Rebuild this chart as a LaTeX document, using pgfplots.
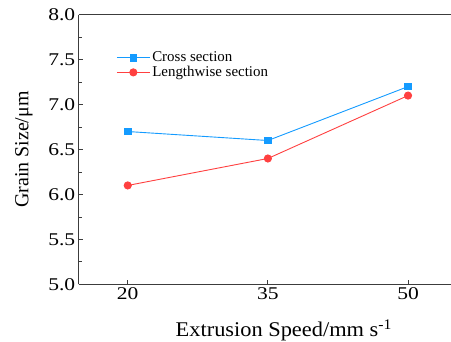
\documentclass[border=0pt]{standalone}
\usepackage{fontspec}
\setmainfont{Liberation Serif}
\newfontfamily\tickfont[FakeStretch=1.2]{Liberation Serif}
\newfontfamily\xlabfont[FakeStretch=1.07]{Liberation Serif}
\usepackage{pgfplots}
\pgfplotsset{compat=1.18}
\definecolor{cblue}{RGB}{20,155,255}
\definecolor{cred}{RGB}{255,64,64}
\definecolor{axgray}{RGB}{60,60,60}
\begin{document}
\begin{tikzpicture}
\begin{axis}[
  at={(0,0)}, anchor=south west,
  scale only axis, width=372.3bp, height=269.6bp,
  xmin=14.75, xmax=54.6, ymin=5, ymax=8,
  axis lines*=left,
  axis line style={axgray, line width=1bp},
  xtick={20,35,50}, ytick={5,5.5,6,6.5,7,7.5,8},
  minor y tick num=1,
  tick align=inside,
  tick style={axgray, line width=0.8bp},
  major tick length=4.5bp, minor tick length=3bp,
  /pgf/number format/assume math mode=true,
  yticklabel style={/pgf/number format/fixed, /pgf/number format/fixed zerofill, /pgf/number format/precision=1},
  tick label style={font=\tickfont\fontsize{18}{20}\selectfont},
  xlabel={Extrusion Speed/mm s\textsuperscript{-1}},
  ylabel={Grain Size/μm},
  xlabel style={at={(rel axis cs:0.551,0)}, anchor=base, yshift=-52.4bp, font=\xlabfont\fontsize{21}{24}\selectfont},
  ylabel style={at={(rel axis cs:-0.1469,0.5)}, anchor=center, font=\fontsize{20}{23}\selectfont},
  legend style={draw=none, fill=none, at={(rel axis cs:0.1007,0.8695)}, anchor=north west,
    font=\fontsize{15}{17}\selectfont, row sep=-1bp, inner sep=0pt,
    nodes={inner sep=2pt},
    /tikz/every even column/.append style={column sep=2bp}},
  legend cell align=left,
  legend image code/.code={\draw[mark repeat=2,mark phase=2] plot coordinates {(0bp,0bp) (16.5bp,0bp) (33bp,0bp)};},
]
\addplot[cblue, line width=0.9bp, mark=square*, mark size=3.3bp, mark options={solid, fill=cblue}]
  coordinates {(20,6.7) (35,6.6) (50,7.2)};
\addlegendentry{Cross section}
\addplot[cred, line width=0.9bp, mark=*, mark size=3.6bp, mark options={solid, fill=cred}]
  coordinates {(20,6.1) (35,6.4) (50,7.1)};
\addlegendentry{Lengthwise section}
\draw[axgray, line width=1.2bp] (rel axis cs:0,1) -- (rel axis cs:1,1);
\end{axis}
\pgfresetboundingbox
\path[use as bounding box] (-78.7bp,-57.7bp) rectangle (372.3bp,284.3bp);
\end{tikzpicture}
\end{document}
